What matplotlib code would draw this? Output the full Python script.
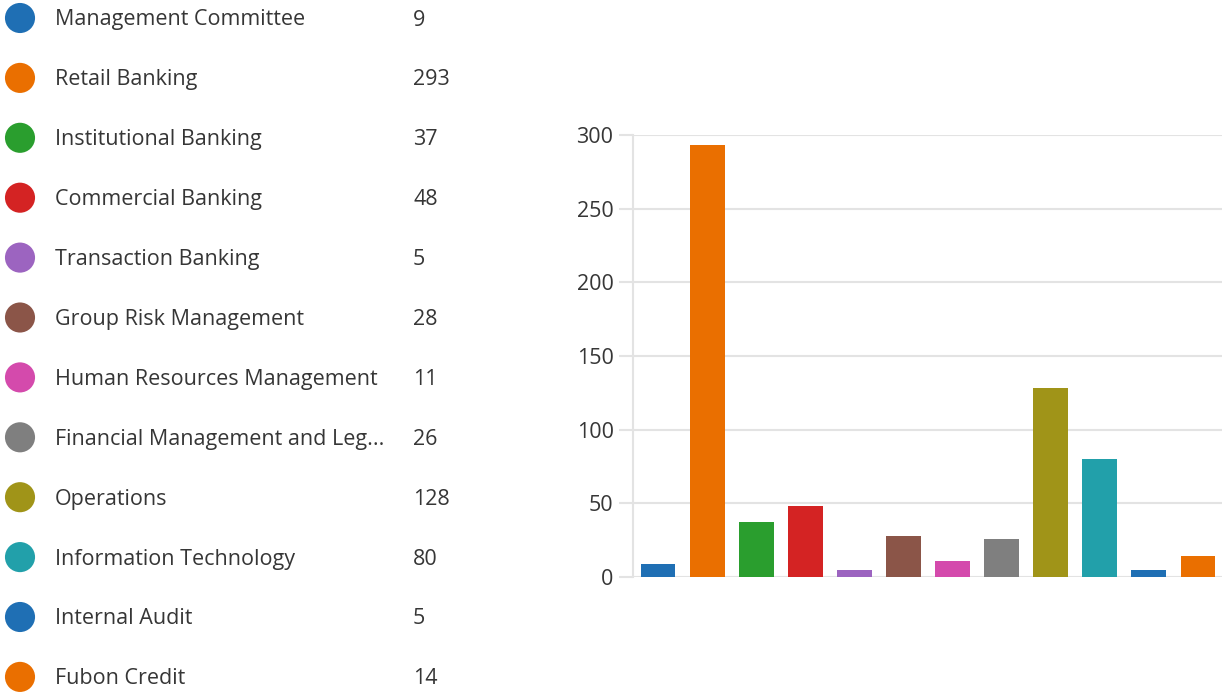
import matplotlib
matplotlib.use("Agg")
import matplotlib.pyplot as plt

departments = [
    "Management Committee",
    "Retail Banking",
    "Institutional Banking",
    "Commercial Banking",
    "Transaction Banking",
    "Group Risk Management",
    "Human Resources Management",
    "Financial Management and Leg...",
    "Operations",
    "Information Technology",
    "Internal Audit",
    "Fubon Credit",
]
headcount = [9, 293, 37, 48, 5, 28, 11, 26, 128, 80, 5, 14]
colors = ["#1f6fb4", "#ea6f00", "#2a9e2e", "#d42323", "#9c64c0", "#8b5548",
          "#d44aac", "#7f7f7f", "#a09418", "#22a0aa", "#1f6fb4", "#ea6f00"]
yticks = [0, 50, 100, 150, 200, 250, 300]

plt.rcParams["font.family"] = ["Open Sans", "DejaVu Sans"]
text_color = "#363636"
grid_color = "#e3e3e3"

fig = plt.figure(figsize=(12.24, 6.92), dpi=100)

# legend list on the left, in pixel units
lax = fig.add_axes([0, 0, 460 / 1224, 1])
lax.set_xlim(0, 460)
lax.set_ylim(692, 0)
lax.axis("off")
row_y = [18 + 59.9 * i for i in range(len(departments))]
lax.scatter([20] * len(departments), row_y, s=470, c=colors, linewidths=0)
for y, name, val in zip(row_y, departments, headcount):
    lax.text(55, y + 2, name, fontsize=15.5, color=text_color, va="center", ha="left")
    lax.text(413, y + 2, str(val), fontsize=15.5, color=text_color, va="center", ha="left")

# bar chart
ax = fig.add_axes([633 / 1224, 1 - 577 / 692, (1222 - 633) / 1224, (577 - 135) / 692])
x = list(range(len(headcount)))
ax.bar(x, headcount, width=0.71, color=colors, zorder=3)
ax.set_xlim(-0.51, 11.49)
ax.set_ylim(0, 300)
ax.set_yticks(yticks)
ax.set_xticks([])
ax.grid(axis="y", color=grid_color, linewidth=1.5, zorder=0)
for side in ["top", "right", "bottom"]:
    ax.spines[side].set_visible(False)
ax.spines["left"].set_color(grid_color)
ax.spines["left"].set_linewidth(1.5)
ax.tick_params(axis="y", length=10, width=1.5, color=grid_color, pad=4,
               labelsize=15.5, labelcolor=text_color)

fig.savefig("out.png", dpi=100)
